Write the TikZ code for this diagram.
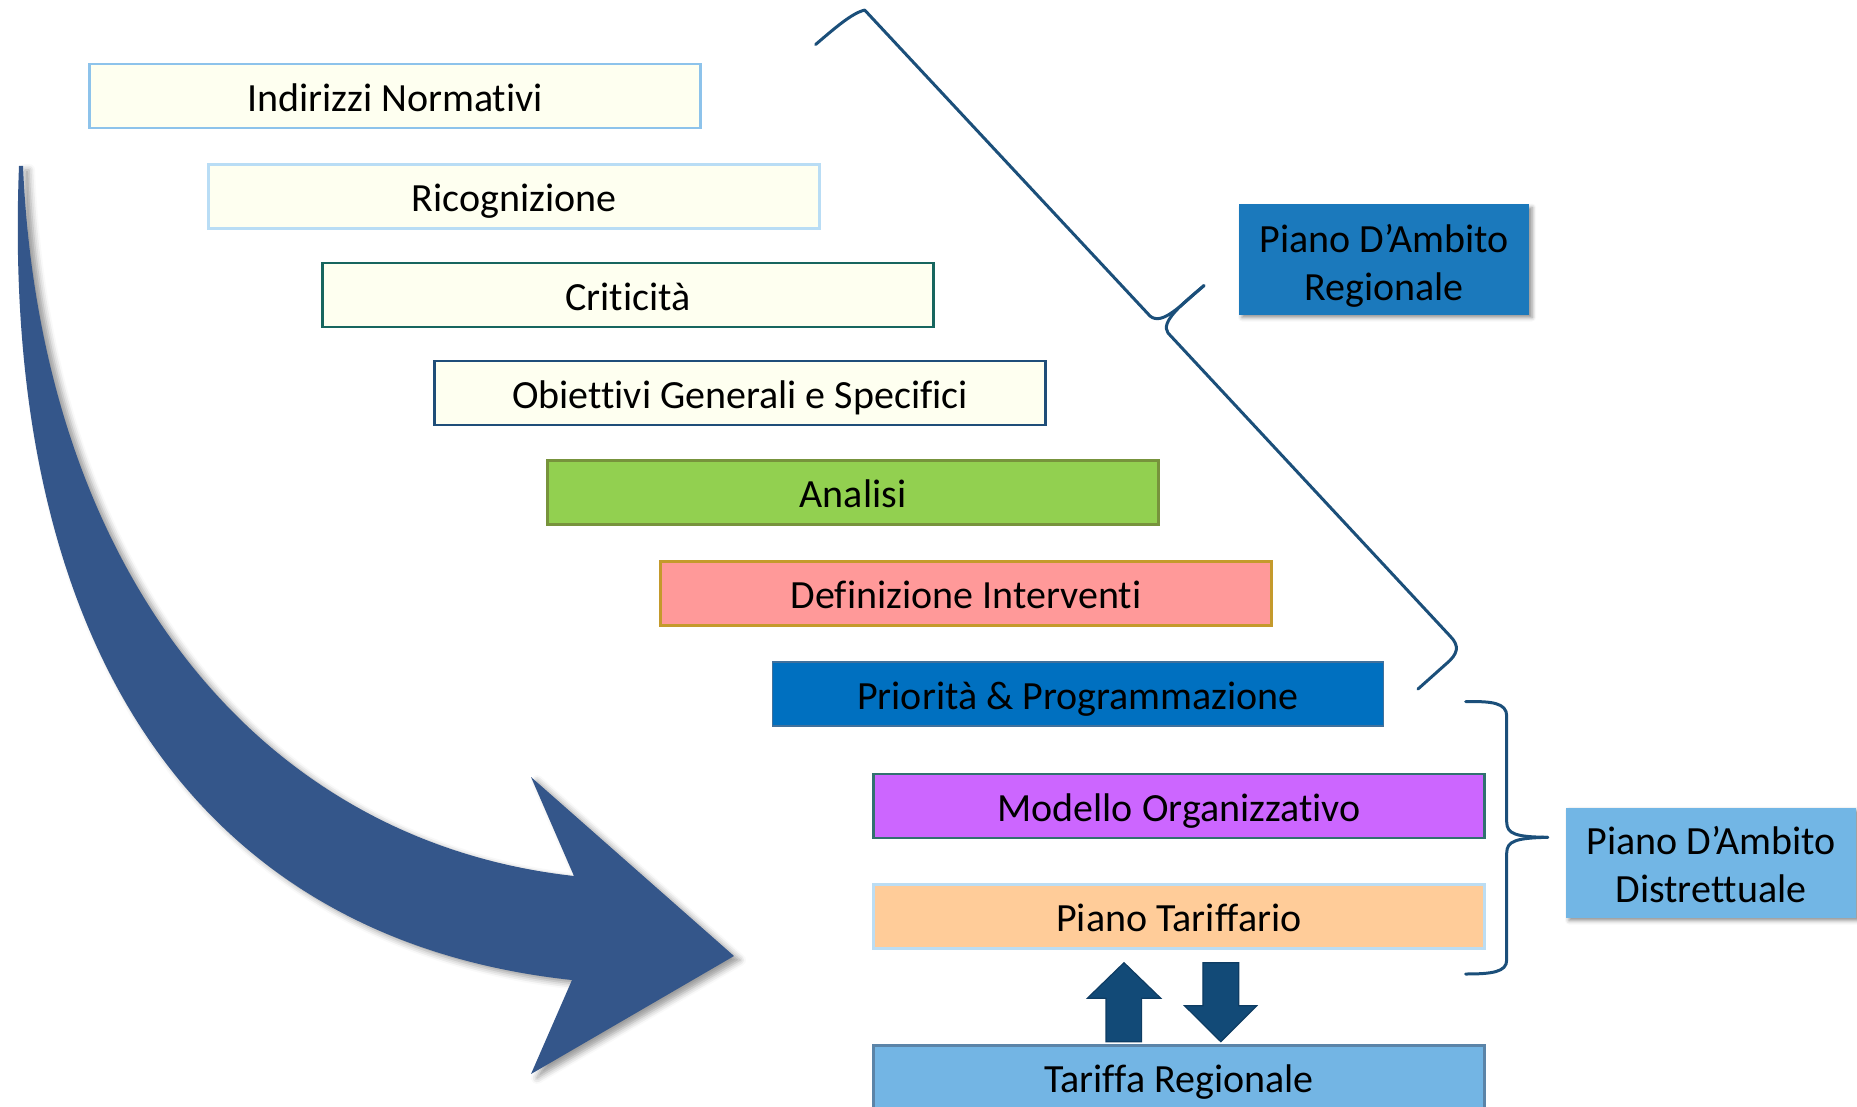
\documentclass[tikz,border=0pt]{standalone}
\usepackage{fontspec}
\setmainfont{Carlito}[Ligatures=NoCommon]
\usetikzlibrary{shadows.blur}

\definecolor{ivory}{HTML}{FEFFF0}
\definecolor{edgeA}{HTML}{8DC3EB}
\definecolor{edgeB}{HTML}{B9DDF5}
\definecolor{edgeC}{HTML}{17665F}
\definecolor{edgeD}{HTML}{1F4E79}
\definecolor{analisiFill}{HTML}{92D050}
\definecolor{analisiEdge}{HTML}{77933C}
\definecolor{defFill}{HTML}{FF9999}
\definecolor{defEdge}{HTML}{C49A2C}
\definecolor{prioFill}{HTML}{0070C0}
\definecolor{prioEdge}{HTML}{41719C}
\definecolor{modFill}{HTML}{CC66FF}
\definecolor{modEdge}{HTML}{31716F}
\definecolor{tarFill}{HTML}{FFCC99}
\definecolor{tarEdge}{HTML}{BCDDF3}
\definecolor{regFill}{HTML}{73B5E4}
\definecolor{regEdge}{HTML}{5B84A8}
\definecolor{planDark}{HTML}{1B79BC}
\definecolor{planLight}{HTML}{72B6E5}
\definecolor{braceBlue}{HTML}{1B4F7A}
\definecolor{smallArrow}{HTML}{124A77}
\definecolor{smallArrowEdge}{HTML}{0E3C63}
\definecolor{bigArrow}{HTML}{34568A}

\begin{document}
\begin{tikzpicture}[x=0.5pt,y=-0.5pt,
  txt/.style={font=\fontsize{20}{24}\selectfont},
  stage/.style={txt, draw, line width=1.2pt, minimum width=305.5pt,
    minimum height=32pt, inner sep=0pt, text height=15.4pt, text depth=0pt},
  plan/.style={txt, align=center, minimum width=145pt, minimum height=55pt,
    inner sep=0pt,
    blur shadow={shadow xshift=1.5pt, shadow yshift=-1.5pt,
      shadow blur radius=2pt, shadow opacity=45}},
  bracepath/.style={draw=braceBlue, line width=1.5pt, line cap=round, line join=round},
  blockarrow/.style={fill=smallArrow, draw=smallArrowEdge, line width=0.6pt}
]
\clip (0,0) rectangle (1857,1107);

% curved sweep arrow on the left
\fill[bigArrow, blur shadow={shadow xshift=3pt, shadow yshift=-2pt,
    shadow blur radius=3pt, shadow opacity=40}]
  (19,166) .. controls (0,650) and (200,940) .. (572,980)
  -- (531,1074) -- (734,956) -- (531,777) -- (574,876)
  .. controls (250,840) and (40,560) .. (23,166) -- cycle;

% the sequence of stages
\node[stage, fill=ivory, draw=edgeA] (s1) at (395,96) {Indirizzi Normativi};
\node[stage, fill=ivory, draw=edgeB] (s2) at (514,196.5) {Ricognizione};
\node[stage, fill=ivory, draw=edgeC] (s3) at (628,295) {Criticità};
\node[stage, fill=ivory, draw=edgeD] (s4) at (740,393) {Obiettivi Generali e Specifici};
\node[stage, fill=analisiFill, draw=analisiEdge] (s5) at (853,492.5) {Analisi};
\node[stage, fill=defFill, draw=defEdge] (s6) at (966,593.5) {Definizione Interventi};
\node[stage, fill=prioFill, draw=prioEdge, line width=0.7pt] (s7) at (1078,694) {Priorità \& Programmazione};
\node[stage, fill=modFill, draw=modEdge] (s8) at (1179,806) {Modello Organizzativo};
\node[stage, fill=tarFill, draw=tarEdge] (s9) at (1179,916.5) {Piano Tariffario};
\node[stage, fill=regFill, draw=regEdge, anchor=north] (s10) at (1179,1044.3) {Tariffa Regionale};

% the two plan levels
\node[plan, fill=planDark] (pr) at (1384,259.5) {\rule{0pt}{20pt}Piano D’Ambito\\Regionale};
\node[plan, fill=planLight] (pd) at (1711,862.5) {\rule{0pt}{16pt}Piano D’Ambito\\Distrettuale};

% slanted brace grouping the regional stages
\coordinate (bt) at (1204,285.6);
\draw[bracepath]
  (815.6,44.5) .. controls (835,28) and (852,13) .. (864.7,10.1)
  -- (1150,316) .. controls (1162,326) and (1180,306) .. (bt);
\draw[bracepath]
  (bt) .. controls (1182,304) and (1160,322) .. (1168,333)
  -- (1450,636) .. controls (1460,646) and (1458,654) .. (1446,664)
  -- (1418,689);

% vertical brace grouping the district stages
\coordinate (dt) at (1547.7,837.3);
\draw[bracepath]
  (1465.7,701.7) .. controls (1492,701) and (1506.7,703) .. (1506.7,716)
  -- (1506.7,822) .. controls (1506.7,834) and (1516,837) .. (dt);
\draw[bracepath]
  (dt) .. controls (1516,838) and (1506.7,841) .. (1506.7,853)
  -- (1506.7,960) .. controls (1506.7,972) and (1492,974) .. (1465.7,974);

% exchange between tariff plan and regional tariff
\draw[blockarrow]
  (1106,1041.7) -- (1141.6,1041.7) -- (1141.6,998.3) -- (1160.8,998.3)
  -- (1124,962.7) -- (1087.3,998.3) -- (1106,998.3) -- cycle;
\draw[blockarrow]
  (1202.9,962.7) -- (1238.8,962.7) -- (1238.8,1005.7) -- (1256.7,1005.7)
  -- (1220.8,1041.7) -- (1184.5,1005.7) -- (1202.9,1005.7) -- cycle;
\end{tikzpicture}
\end{document}
